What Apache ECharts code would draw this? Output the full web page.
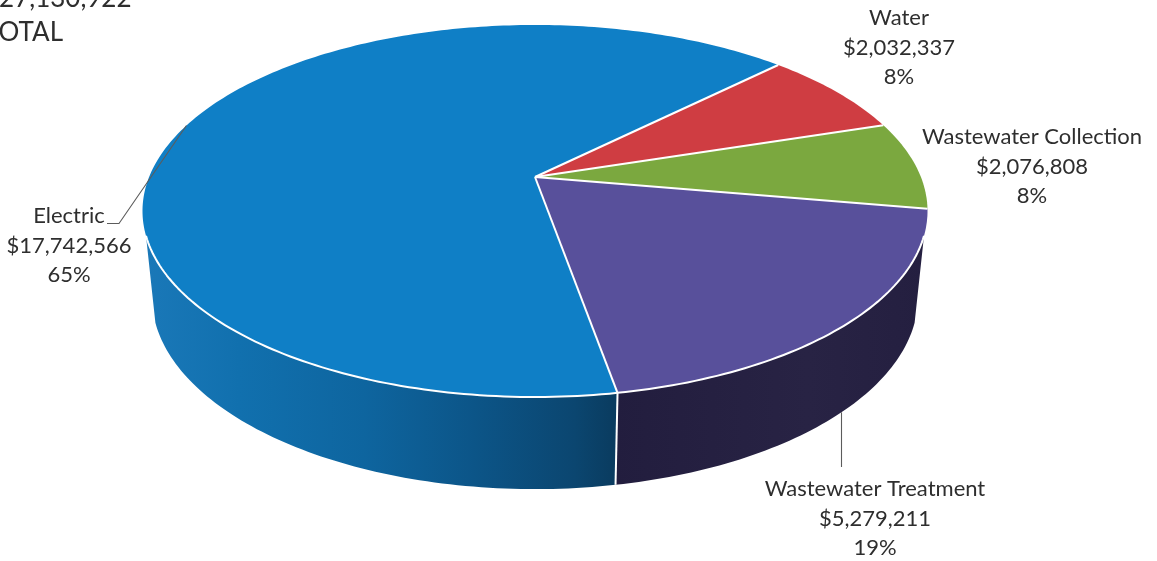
<!DOCTYPE html>
<html>
<head>
<meta charset="utf-8">
<style>html,body{margin:0;padding:0;background:#fff}#chart{width:1157px;height:561px}</style>
<script src="https://cdn.jsdelivr.net/npm/echarts@6/dist/echarts.min.js"></script>
</head>
<body>
<div id="chart"></div>
<script>
// Budget by utility
const categories = ['Electric', 'Water', 'Wastewater Collection', 'Wastewater Treatment'];
const amounts = [17742566, 2032337, 2076808, 5279211];
const amountLabels = ['$17,742,566', '$2,032,337', '$2,076,808', '$5,279,211'];
const percentLabels = ['65%', '8%', '8%', '19%'];
const totalLines = ['$27,130,922', 'TOTAL'];

// Pie projection: a disc seen in perspective, with the far half foreshortened.
const CX = 535, TILT = 0.1828;
const TOP = { x: CX, y: 177, a: 385.9, b: 179.8 };
const BASE = { x: CX, y: 262, a: 376.6, b: 185.6 };
const START_DEG = -79.9;               // clockwise from the Treatment/Electric edge
const WALL_FROM = -18, WALL_TO = -162; // visible rim, right side round the front to the left side

const sum = amounts.reduce((a, b) => a + b, 0);
let running = START_DEG;
const slices = amounts.map(v => {
  const sweep = v / sum * 360;
  const s = { from: running, to: running - sweep, mid: running - sweep / 2 };
  running -= sweep;
  return s;
});

function project(disc, deg) {
  const t = deg * Math.PI / 180, u = Math.cos(t), v = Math.sin(t), d = 1 + TILT * v;
  return [disc.x + disc.a * u / d, disc.y - disc.b * v / d];
}
function arc(disc, from, to) {
  const n = Math.max(2, Math.ceil(Math.abs(from - to))), out = [];
  for (let i = 0; i <= n; i++) out.push(project(disc, from + (to - from) * i / n));
  return out;
}
// Portion of a slice's rim that lies on the visible front of the disc.
// Slices are walked clockwise past a full turn, so test both windings.
function frontRange(s) {
  const ranges = [];
  [0, -360].forEach(turn => {
    const hi = Math.min(s.from, WALL_FROM + turn), lo = Math.max(s.to, WALL_TO + turn);
    if (hi > lo) ranges.push([hi, lo]);
  });
  return ranges;
}

const lin = (stops) => new echarts.graphic.LinearGradient(146, 0, 925, 0,
  stops.map(([offset, color]) => ({ offset, color })), true);
const topColors = ['#0f7fc6', '#cf3d42', '#7ba83f', '#58509b'];
const wallColors = [
  lin([[0, '#1a78b8'], [0.12, '#1170ae'], [0.28, '#0e659f'], [0.42, '#0c5588'], [0.55, '#0b4670'], [0.6, '#0a3c60'], [1, '#0a3c60']]),
  '#8e2a2e', '#55752c',
  lin([[0, '#221d3e'], [0.6, '#221d3e'], [0.85, '#282344'], [1, '#241f40']])
];

const inkColor = '#2e2e2e';
const labelFont = '22px Lato, "Noto Sans", sans-serif';
const titleFont = '26px Lato, "Noto Sans", sans-serif';
const labelAnchors = [[69, 216], [899, 18], [1032, 137], [875, 489]];
const LINE_GAP = 29.7;

const option = {
  animation: false,
  backgroundColor: '#ffffff',
  series: [
    {
      // Side wall of the disc
      type: 'custom', coordinateSystem: 'none', silent: true, z: 1,
      data: amounts,
      renderItem(params) {
        const i = params.dataIndex;
        const parts = frontRange(slices[i]).map(([hi, lo]) => ({
          type: 'polygon',
          shape: { points: arc(TOP, hi, lo).concat(arc(BASE, lo, hi)) },
          style: { fill: wallColors[i] }
        }));
        return { type: 'group', children: parts };
      }
    },
    {
      // Top face
      type: 'custom', coordinateSystem: 'none', silent: true, z: 2,
      data: amounts,
      renderItem(params) {
        const i = params.dataIndex, s = slices[i];
        const centre = [TOP.x, TOP.y];
        const children = [{
          type: 'polygon',
          shape: { points: [centre].concat(arc(TOP, s.from, s.to)) },
          style: { fill: topColors[i] }
        }];
        return { type: 'group', children };
      }
    },
    {
      // White seams between slices and along the front rim
      type: 'custom', coordinateSystem: 'none', silent: true, z: 3,
      data: amounts,
      renderItem(params) {
        const i = params.dataIndex, s = slices[i];
        const seam = { stroke: '#ffffff', lineWidth: 2, fill: null, lineJoin: 'round' };
        const children = [{
          type: 'polyline',
          shape: { points: [[TOP.x, TOP.y], project(TOP, s.from)] },
          style: seam
        }];
        frontRange(s).forEach(([hi, lo]) => {
          children.push({ type: 'polyline', shape: { points: arc(TOP, hi, lo) }, style: seam });
        });
        if (i === 0) {
          children.push({
            type: 'polyline',
            shape: { points: [project(TOP, s.from), project(BASE, s.from)] },
            style: seam
          });
        }
        return { type: 'group', children };
      }
    },
    {
      // Category labels and their leader lines
      type: 'custom', coordinateSystem: 'none', silent: true, z: 4,
      data: categories,
      renderItem(params) {
        const i = params.dataIndex;
        const [x, y] = labelAnchors[i];
        const lines = [categories[i], amountLabels[i], percentLabels[i]];
        const children = lines.map((text, k) => ({
          type: 'text',
          style: { text, x, y: y + k * LINE_GAP, fill: inkColor, font: labelFont, align: 'center', verticalAlign: 'middle' }
        }));
        const leader = { stroke: '#5c5c5c', lineWidth: 1.1, fill: null };
        if (i === 0) {
          const end = project(TOP, slices[0].mid);
          children.push({ type: 'polyline', shape: { points: [[107, 223.5], [119, 223.5], end] }, style: leader });
        }
        if (i === 3) {
          const end = project(BASE, slices[3].mid);
          const px = Math.round(end[0]) + 0.5;
          children.push({ type: 'polyline', shape: { points: [[px, end[1]], [px, 467]] }, style: leader });
        }
        return { type: 'group', children };
      }
    }
  ],
  graphic: totalLines.map((text, k) => ({
    type: 'text', x: -16, y: -1 + k * 34,
    style: { text, fill: inkColor, font: titleFont, align: 'left', verticalAlign: 'middle' }
  }))
};

const chart = echarts.init(document.getElementById('chart'), null, { renderer: 'canvas' });
chart.setOption(option);
</script>
</body>
</html>
